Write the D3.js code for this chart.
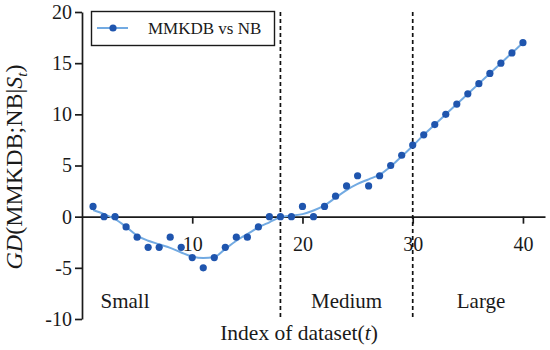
<!DOCTYPE html>
<html>
<head>
<meta charset="utf-8">
<script src="https://cdn.jsdelivr.net/npm/d3@7"></script>
<style>
  body { margin: 0; background: #fff; }
  svg { display: block; }
  svg text { font-family: "Liberation Serif", "Times New Roman", serif; fill: #1a1a1a; }
</style>
</head>
<body>
<script>
// chart data
var datasetIndex = d3.range(1, 41);
var gdValues = [1, 0, 0, -1, -2, -3, -3, -2, -3, -4,
                -5, -4, -3, -2, -2, -1, 0, 0, 0, 1,
                0, 1, 2, 3, 4, 3, 4, 5, 6, 7,
                8, 9, 10, 11, 12, 13, 14, 15, 16, 17];
// smoothed trend
var trendValues = [0.65, 0.25, -0.25, -1.0, -1.85, -2.35, -2.7, -3.05, -3.5, -3.9,
                   -4.05, -3.95, -3.15, -2.35, -1.7, -1.05, -0.55, -0.05, 0.1, 0.25,
                   0.6, 1.1, 1.85, 2.6, 3.2, 3.65, 4.1, 4.9, 5.9, 6.9,
                   8, 9, 10, 11, 12, 13, 14, 15, 16, 17];
var xTicks = [10, 20, 30, 40];
var yTicks = [-10, -5, 0, 5, 10, 15, 20];
var splits = [18, 30];
var groups = [
    { name: "Small", at: 3.9 },
    { name: "Medium", at: 24 },
    { name: "Large", at: 36.2 }
];
var seriesName = "MMKDB vs NB";

var width = 550, height = 350;
var dotColour = "#1f55ae";
var lineColour = "#72aae2";

var svg = d3.select("body").append("svg")
    .attr("width", width)
    .attr("height", height);

var x = d3.scaleLinear().domain([0, 42]).range([82, 545]);
var y = d3.scaleLinear().domain([-10, 20]).range([319, 12]);

// y axis
var yAxis = svg.append("g")
    .attr("transform", "translate(" + x(0) + ",0)")
    .call(d3.axisLeft(y).tickValues(yTicks).tickSize(7).tickSizeOuter(0).tickFormat(d => String(d)));
yAxis.attr("font-family", null).attr("font-size", null);
yAxis.select(".domain").attr("stroke", "#1a1a1a").attr("stroke-width", 1.7);
yAxis.selectAll(".tick line").attr("stroke", "#1a1a1a").attr("stroke-width", 1.7);
yAxis.selectAll("text")
    .attr("x", -10)
    .attr("fill", null)
    .style("font-size", "20px");

// x axis along y = 0
var xAxis = svg.append("g")
    .attr("transform", "translate(0," + y(0) + ")")
    .call(d3.axisBottom(x).tickValues(xTicks).tickSize(7).tickSizeOuter(0));
xAxis.attr("font-family", null).attr("font-size", null);
xAxis.select(".domain").attr("stroke", "#1a1a1a").attr("stroke-width", 1.7);
xAxis.selectAll(".tick line").attr("stroke", "#1a1a1a").attr("stroke-width", 1.7);
xAxis.selectAll("text")
    .attr("y", 20)
    .attr("fill", null)
    .style("font-size", "20px");

// dashed separators
svg.selectAll("line.split")
    .data(splits)
    .enter()
    .append("line")
        .attr("class", "split")
        .attr("x1", d => x(d))
        .attr("x2", d => x(d))
        .attr("y1", y(20))
        .attr("y2", y(-10))
        .attr("stroke", "#111")
        .attr("stroke-width", 1.7)
        .attr("stroke-dasharray", "4,3");

// smooth trend line
var line = d3.line()
    .x((d, i) => x(datasetIndex[i]))
    .y(d => y(d))
    .curve(d3.curveMonotoneX);
svg.append("path")
    .datum(trendValues)
    .attr("d", line)
    .attr("fill", "none")
    .attr("stroke", lineColour)
    .attr("stroke-width", 2);

// points
svg.selectAll("circle.pt")
    .data(gdValues)
    .enter()
    .append("circle")
        .attr("class", "pt")
        .attr("cx", (d, i) => x(datasetIndex[i]))
        .attr("cy", d => y(d))
        .attr("r", 3.6)
        .attr("fill", dotColour);

// group labels
svg.selectAll("text.group")
    .data(groups)
    .enter()
    .append("text")
        .attr("class", "group")
        .attr("x", d => x(d.at))
        .attr("y", 308)
        .attr("text-anchor", "middle")
        .style("font-size", "21px")
        .text(d => d.name);

// x label
var xl = svg.append("text")
    .attr("x", 299)
    .attr("y", 340)
    .attr("text-anchor", "middle")
    .style("font-size", "21.5px");
xl.append("tspan").text("Index of dataset(");
xl.append("tspan").style("font-style", "italic").text("t");
xl.append("tspan").text(")");

// y label
var yl = svg.append("text")
    .attr("transform", "translate(22,167) rotate(-90)")
    .attr("text-anchor", "middle")
    .style("font-size", "24px");
yl.append("tspan").style("font-style", "italic").text("GD");
yl.append("tspan").text("(MMKDB;NB|");
yl.append("tspan").style("font-style", "italic").text("S");
yl.append("tspan").style("font-style", "italic").style("font-size", "15px").attr("dy", 5).text("t");
yl.append("tspan").attr("dy", -5).text(")");

// legend
var legend = svg.append("g");
legend.append("rect")
    .attr("x", 91.5)
    .attr("y", 11.5)
    .attr("width", 183)
    .attr("height", 34)
    .attr("fill", "#fff")
    .attr("stroke", "#1a1a1a")
    .attr("stroke-width", 1.4);
legend.append("line")
    .attr("x1", 97).attr("x2", 128)
    .attr("y1", 28).attr("y2", 28)
    .attr("stroke", lineColour)
    .attr("stroke-width", 2);
legend.append("circle")
    .attr("cx", 113).attr("cy", 28).attr("r", 3.6)
    .attr("fill", dotColour);
legend.append("text")
    .attr("x", 148)
    .attr("y", 34)
    .style("font-size", "17px")
    .text(seriesName);
</script>
</body>
</html>
